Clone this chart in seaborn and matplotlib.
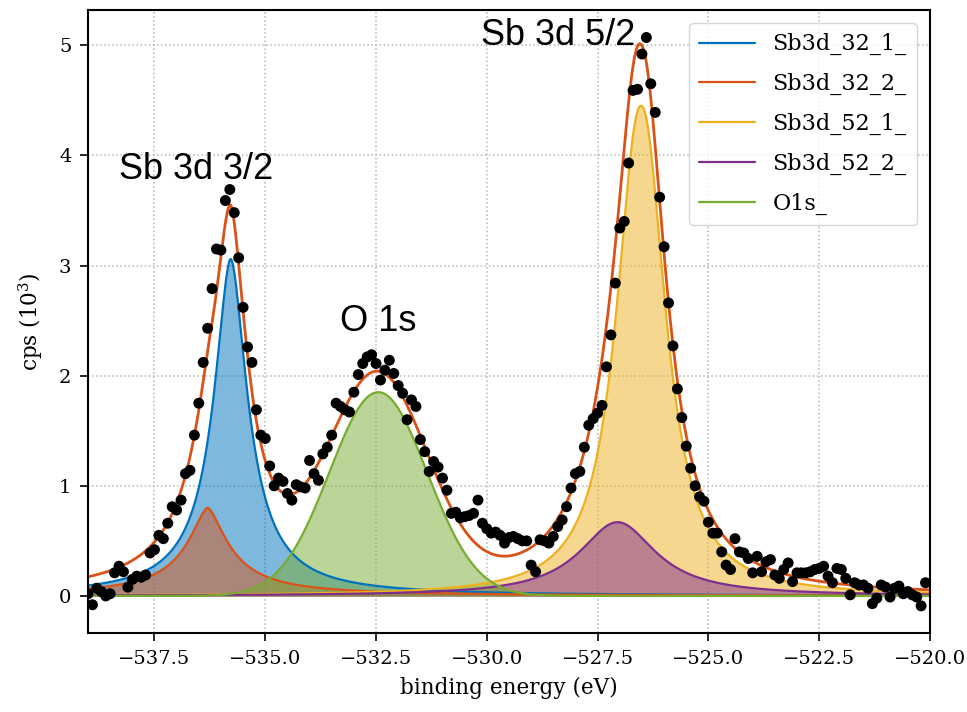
import numpy as np
import pandas as pd
import matplotlib
matplotlib.use("Agg")
import matplotlib.pyplot as plt
import seaborn as sns

# ---- measured spectrum (binding energy grid, 0.1 eV step) ----
energy_start = -539.0
energy_step = 0.1
cps = [
    0.02, -0.08, 0.07, 0.04, 0.00, 0.02, 0.21, 0.27, 0.22, 0.08,
    0.15, 0.18, 0.17, 0.19, 0.39, 0.42, 0.55, 0.52, 0.66, 0.81,
    0.78, 0.87, 1.11, 1.14, 1.46, 1.75, 2.12, 2.43, 2.79, 3.15,
    3.14, 3.59, 3.69, 3.48, 3.07, 2.62, 2.26, 2.12, 1.69, 1.46,
    1.43, 1.18, 1.00, 1.07, 1.04, 0.93, 0.87, 1.01, 0.99, 0.98,
    1.23, 1.11, 1.05, 1.29, 1.35, 1.46, 1.75, 1.72, 1.69, 1.67,
    1.85, 2.01, 2.11, 2.17, 2.19, 2.11, 1.96, 2.05, 2.14, 2.02,
    1.91, 1.84, 1.60, 1.78, 1.72, 1.42, 1.31, 1.13, 1.22, 1.17,
    1.07, 0.96, 0.75, 0.76, 0.71, 0.72, 0.73, 0.75, 0.87, 0.66,
    0.61, 0.57, 0.58, 0.55, 0.48, 0.53, 0.54, 0.52, 0.50, 0.50,
    0.28, 0.22, 0.51, 0.50, 0.48, 0.54, 0.63, 0.69, 0.81, 0.98,
    1.11, 1.13, 1.35, 1.55, 1.61, 1.66, 1.73, 2.08, 2.37, 2.84,
    3.34, 3.40, 3.93, 4.59, 4.60, 4.92, 5.07, 4.65, 4.39, 3.62,
    3.17, 2.66, 2.27, 1.88, 1.62, 1.36, 1.16, 1.00, 0.90, 0.86,
    0.67, 0.57, 0.57, 0.40, 0.28, 0.24, 0.52, 0.40, 0.39, 0.34,
    0.21, 0.36, 0.22, 0.31, 0.33, 0.19, 0.16, 0.24, 0.30, 0.13,
    0.21, 0.21, 0.21, 0.22, 0.24, 0.25, 0.27, 0.18, 0.12, 0.25,
    0.24, 0.16, 0.01, 0.12, 0.10, 0.10, 0.07, -0.07, -0.02, 0.10,
    0.08, -0.01, 0.07, 0.09, 0.02, 0.04, 0.01, -0.01, -0.09, 0.12,
]

# ---- fitted components (peak parameters) ----
comp_names = ["Sb3d_32_1_", "Sb3d_32_2_", "Sb3d_52_1_", "Sb3d_52_2_", "O1s_"]
comp_center = [-535.78, -536.30, -526.52, -527.05, -532.45]
comp_height = [3.06, 0.80, 4.45, 0.67, 1.85]
comp_fwhm = [0.95, 1.20, 1.30, 2.10, 2.60]
comp_shape = ["lor", "lor", "lor", "lor", "gauss"]
comp_power = [1.8, 1.6, 2.15, 2.0, 2.0]
comp_colors = ["#0072BD", "#D95319", "#EDB120", "#7E2F8E", "#77AC30"]
envelope_color = "#D95319"

annotations = ["Sb 3d 3/2", "O 1s", "Sb 3d 5/2"]
annot_x = [-536.55, -532.45, -528.38]
annot_y = [3.87, 2.49, 5.09]

xticks = [-537.5, -535.0, -532.5, -530.0, -527.5, -525.0, -522.5, -520.0]
yticks = [0, 1, 2, 3, 4, 5]

# ---------------------------------------------------------------
energy = np.round(energy_start + energy_step * np.arange(len(cps)), 2)
data = pd.DataFrame({"energy": energy, "cps": cps})

xf = np.linspace(-539.0, -520.0, 1200)


def profile(kind, c, h, w, p):
    if kind == "gauss":
        s = w / 2.3548
        return h * np.exp(-((xf - c) ** 2) / (2 * s * s))
    return h / (1.0 + np.abs(2.0 * (xf - c) / w) ** p)


comps = [profile(k, c, h, w, p) for k, c, h, w, p in
         zip(comp_shape, comp_center, comp_height, comp_fwhm, comp_power)]
envelope = np.sum(comps, axis=0)

sns.set_style("ticks")
plt.rcParams["font.family"] = ["DejaVu Serif"]
plt.rcParams["mathtext.fontset"] = "dejavuserif"
for key in ["text.color", "axes.labelcolor", "xtick.color", "ytick.color"]:
    plt.rcParams[key] = "black"

fig, ax = plt.subplots(figsize=(9.67, 7.12), dpi=100)
fig.subplots_adjust(left=0.091, right=0.9617, top=0.986, bottom=0.111)

ax.grid(True, linestyle=":", color="#b5b5b5", linewidth=1.1)
ax.set_axisbelow(True)

for i in range(len(comp_names)):
    ax.fill_between(xf, 0, comps[i], color=comp_colors[i], alpha=0.5, linewidth=0)
    sns.lineplot(x=xf, y=comps[i], ax=ax, color=comp_colors[i], linewidth=1.6,
                 label=comp_names[i], sort=False)

sns.lineplot(x=xf, y=envelope, ax=ax, color=envelope_color, linewidth=2.0,
             sort=False, legend=False)

sns.scatterplot(data=data, x="energy", y="cps", ax=ax, color="black", s=62,
                edgecolor="none", legend=False, zorder=5)

for t, x, y in zip(annotations, annot_x, annot_y):
    ax.text(x, y, t, ha="center", va="center", fontsize=26, color="black",
            family=["Liberation Sans", "DejaVu Sans"], zorder=6)

ax.set_xlim(-539.0, -520.0)
ax.set_ylim(-0.336, 5.32)
ax.set_xticks(xticks)
ax.set_yticks(yticks)
ax.tick_params(axis="both", labelsize=14, direction="out", length=6, width=1.2,
               pad=6)
ax.set_xlabel("binding energy (eV)", fontsize=15.5, labelpad=7)
ax.set_ylabel(r"cps (10$^3$)", fontsize=15.5, labelpad=10)
for sp in ax.spines.values():
    sp.set_visible(True)
    sp.set_linewidth(1.5)
    sp.set_color("black")

leg = ax.legend(loc="upper right", fontsize=16, handlelength=2.5,
                handletextpad=0.8, labelspacing=0.8, borderaxespad=0.6,
                borderpad=0.45, framealpha=0.8)

fig.savefig("out.png", dpi=100)
